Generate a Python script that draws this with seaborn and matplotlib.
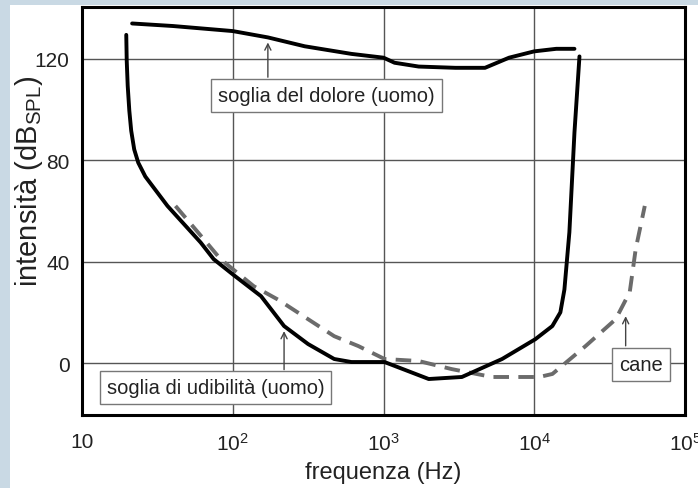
import numpy as np
import pandas as pd
import seaborn as sns
import matplotlib.pyplot as plt
from matplotlib.patches import Rectangle

# soglia del dolore (uomo)
pain_freq = [21.5, 40, 100, 171, 300, 612, 1000, 1184, 1711, 3000, 4713, 6810, 10000, 14000, 18480]
pain_db = [134, 133, 131, 128.5, 125, 122, 120.5, 118.5, 117, 116.5, 116.5, 120.5, 123, 124, 124]

# soglia di udibilità (uomo)
hear_freq = [19.66, 19.8, 20.1, 20.6, 21.2, 22.2, 23.6, 26.3, 36.9, 61.2, 74.7, 100, 154, 219,
             316, 471, 612, 1016, 1995, 3311, 6120, 10160, 13180, 14900, 15850, 17100, 18480, 19950]
hear_db = [129.5, 119.3, 109.4, 99.6, 91.7, 84.3, 79.1, 73.6, 62, 47.6, 41, 35, 26.4, 14.6,
           7.5, 1.6, 0.4, 0.4, -6.3, -5.5, 1.6, 9.4, 14.6, 20, 29, 51.6, 91, 121]

# cane
dog_freq = [41.7, 64, 83, 138, 200, 471, 681, 1016, 1711, 2840, 5250, 10800, 13200,
            21900, 34700, 43000, 47100, 54100]
dog_db = [62, 49, 41, 30.3, 25, 10.6, 6.7, 1.6, 0.8, -2.4, -5.5, -5.5, -4.3,
          6.7, 17.3, 28, 45, 62]

xticks = [10, 100, 1000, 10000, 100000]
xtick_labels = ['10', r'$\mathregular{10^{2}}$', r'$\mathregular{10^{3}}$',
                r'$\mathregular{10^{4}}$', r'$\mathregular{10^{5}}$']
yticks = [0, 40, 80, 120]

sns.set_style('white')
plt.rcParams['font.family'] = ['Liberation Sans', 'DejaVu Sans']
plt.rcParams['mathtext.fontset'] = 'custom'
plt.rcParams['mathtext.rm'] = 'Liberation Sans'

fig = plt.figure(figsize=(6.98, 4.89), dpi=100)
fig.patch.set_facecolor('#c9d9e4')
fig.patches.append(Rectangle((10 / 698, 0), 1, 1 - 6 / 489, transform=fig.transFigure,
                             facecolor='white', edgecolor='none', zorder=-5))
ax = fig.add_axes([82 / 698, 1 - 416 / 489, 603 / 698, 408 / 489])
ax.set_facecolor('white')

pain = pd.DataFrame({'f': pain_freq, 'db': pain_db})
hear = pd.DataFrame({'f': hear_freq, 'db': hear_db})
dog = pd.DataFrame({'f': dog_freq, 'db': dog_db})

sns.lineplot(data=pain, x='f', y='db', sort=False, color='black', lw=2.8, ax=ax, zorder=3)
sns.lineplot(data=hear, x='f', y='db', sort=False, color='black', lw=2.8, ax=ax, zorder=3)
sns.lineplot(data=dog, x='f', y='db', sort=False, color='#6b6b6b', lw=2.8, ax=ax,
             zorder=2, dashes=False, linestyle=(0, (4, 2.4)))

ax.set_xscale('log')
ax.set_xlim(10, 1e5)
ax.set_ylim(-20.5, 140.5)
ax.set_xticks(xticks)
ax.set_xticklabels(xtick_labels)
ax.minorticks_off()
ax.set_yticks(yticks)
ax.grid(True, color='#555555', lw=1.0)
ax.tick_params(length=0, labelsize=15, colors='#222222')
ax.tick_params(axis='y', pad=9)
ax.tick_params(axis='x', pad=12)
for s in ax.spines.values():
    s.set_color('black')
    s.set_linewidth(2.2)

ax.set_xlabel('frequenza (Hz)', fontsize=17, color='#222222', labelpad=5)
ax.set_ylabel(r'intensità (dB$\mathregular{_{SPL}}$)', fontsize=21, color='#222222')
ax.yaxis.set_label_coords(-0.062, 0.575)

box = dict(boxstyle='square,pad=0.35', fc='white', ec='#777777', lw=1)
arrow = dict(arrowstyle='->', color='#444444', lw=1, shrinkA=0, shrinkB=0, mutation_scale=11)

ax.text(420, 105.5, 'soglia del dolore (uomo)', ha='center', va='center', fontsize=14.5,
        color='#222222', bbox=box, zorder=4)
ax.annotate('', xy=(171, 126.5), xytext=(171, 112.8), arrowprops=arrow, zorder=4)

ax.text(77, -9.8, 'soglia di udibilità (uomo)', ha='center', va='center', fontsize=14.5,
        color='#222222', bbox=box, zorder=4)
ax.annotate('', xy=(219, 12.6), xytext=(219, -2.6), arrowprops=arrow, zorder=4)

ax.text(50900, -0.4, 'cane', ha='center', va='center', fontsize=14.5,
        color='#222222', bbox=box, zorder=4)
ax.annotate('', xy=(40400, 18.5), xytext=(40400, 6.8), arrowprops=arrow, zorder=4)

fig.savefig('out.png', dpi=100, facecolor=fig.get_facecolor())
